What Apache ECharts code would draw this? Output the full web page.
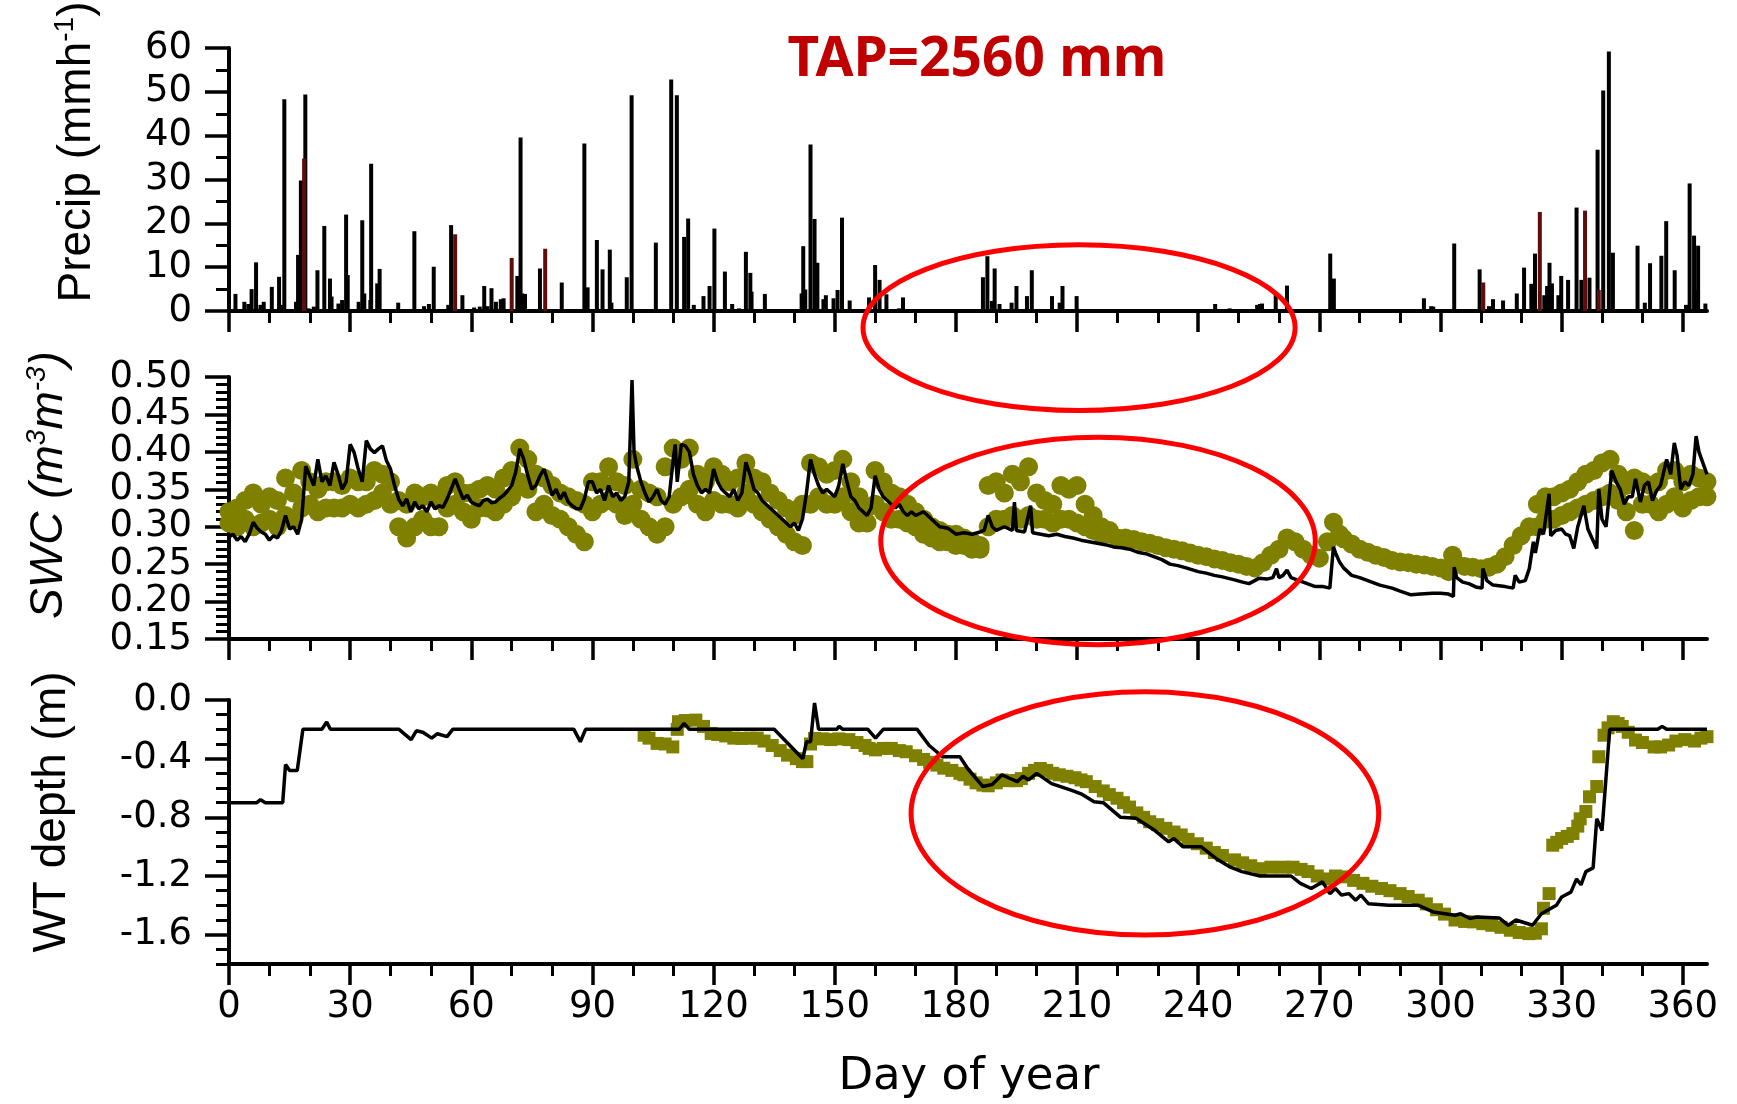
<!DOCTYPE html>
<html>
<head>
<meta charset="utf-8">
<script src="https://cdn.jsdelivr.net/npm/echarts@6.0.0/dist/echarts.min.js"></script>
<style>
  html, body { margin: 0; padding: 0; background: #fff; }
  #chart { width: 1737px; height: 1104px; }
</style>
</head>
<body>
<div id="chart"></div>
<script>
// ---- data ----
const dayMajor = [0, 30, 60, 90, 120, 150, 180, 210, 240, 270, 300, 330, 360];
const dayMinor = [10, 20, 40, 50, 70, 80, 100, 110, 130, 140, 160, 170, 190, 200, 220, 230, 250, 260, 280, 290, 310, 320, 340, 350];

const precipTicks = [0, 10, 20, 30, 40, 50, 60];
const precipMinor = [5, 15, 25, 35, 45, 55];
const swcTicks = [0.15, 0.20, 0.25, 0.30, 0.35, 0.40, 0.45, 0.50];
const swcMinor = [0.16, 0.17, 0.18, 0.19, 0.21, 0.22, 0.23, 0.24, 0.26, 0.27, 0.28, 0.29, 0.31, 0.32, 0.33, 0.34,
  0.36, 0.37, 0.38, 0.39, 0.41, 0.42, 0.43, 0.44, 0.46, 0.47, 0.48, 0.49];
const wtTicks = [-1.6, -1.2, -0.8, -0.4, 0];
const wtMinor = [-1.8, -1.7, -1.5, -1.4, -1.3, -1.1, -1.0, -0.9, -0.7, -0.6, -0.5, -0.3, -0.2, -0.1];

// hourly precipitation peaks [day, mm/h]
const precip = [
  [1.6, 3.9], [3.8, 2.1], [4.8, 1.6], [5.6, 5], [6.7, 11.1], [7.8, 1.4], [8.6, 2.1], [10.6, 5.5], [12.4, 7.8],
  [13, 1.4], [13.7, 48.3], [14.7, 0.4], [16.6, 2.1], [17.1, 12.8], [17.8, 29.8], [18.9, 49.4], [19.7, 0.6],
  [21, 1], [21.9, 9.3], [23.6, 19.4], [25, 7.4], [25.4, 3.3], [27.1, 1.7], [28, 2.5], [29, 22], [29.4, 8.2],
  [32.1, 2.1], [33, 20.7], [33.5, 4], [35, 2.5], [35.2, 33.6], [36.7, 6.3], [37.3, 9.6], [41.9, 1.9],
  [45.9, 18.2], [48.3, 1.1], [49.5, 1.6], [50.7, 10.1], [54.3, 1.4], [55, 19.6], [57.8, 3.6], [60.7, 0.8],
  [62.1, 1], [63.2, 5.7], [64, 1.1], [65, 5.2], [66.1, 2.1], [67.3, 2.7], [68, 2.9], [71.4, 8], [72.2, 39.6],
  [72.6, 4], [73.3, 3.9], [75.9, 0.4], [77, 9.7], [82.4, 6.5], [88, 38.2], [88.8, 5.4], [91.1, 16.2],
  [92.5, 9.5], [94.3, 14], [94.7, 1.9], [98.5, 7.7], [99.7, 49.2], [101, 0.4], [105.7, 15.6], [109.5, 52.8],
  [110.9, 49.2], [112.7, 16.9], [113.7, 21.1], [115.1, 1.4], [117.5, 3.4], [119, 5.7], [120.2, 18.8],
  [122.8, 9], [124.6, 1.6], [126.3, 0.6], [128, 13.5], [129.1, 8.7], [129.4, 4.4], [132.7, 3.9], [140, 0.3],
  [141.8, 4], [142.2, 14.8], [142.7, 4.9], [144, 38], [145, 21], [145.7, 11], [147.2, 2.7], [147.8, 3.6],
  [149.7, 2.9], [150.7, 4.8], [151.8, 21.3], [153.7, 2.4], [158.5, 3.1], [160, 10.5], [161.1, 7.1],
  [162.8, 3.8], [165.9, 0.6], [166.9, 3.1], [186.7, 7.7], [187.8, 12.5], [188.9, 2.3], [189.6, 9.7],
  [190.8, 1.6], [193.8, 1.9], [195, 5.7], [197.6, 3.4], [198.8, 9.3], [200.7, 0.4], [203.8, 3.4],
  [205.7, 1.9], [206.4, 5.7], [209.9, 3.4], [244.2, 1.6], [247.8, 0.6], [254.6, 1.4], [255.3, 1.6],
  [255.8, 1.7], [259.2, 4], [262, 5.8], [272.7, 13.1], [273.6, 7.4], [282.5, 0.4], [295.9, 2.9],
  [297.7, 1.1], [298.2, 1], [303.4, 15.4], [305, 0.4], [309.7, 9.5], [312, 1.1], [313, 2.7], [315.5, 2.4],
  [318.9, 4], [320.7, 9.9], [322.5, 6.2], [323.4, 13.1], [325.7, 3.6], [326.4, 5.7], [327, 11], [327.6, 6.3],
  [329.2, 3.6], [329.9, 8], [331.6, 7.1], [333.7, 23.6], [334.9, 7.1], [336.9, 7.6], [338.9, 36.8],
  [340.3, 50.3], [341.7, 59.2], [342.7, 13.3], [346.6, 0.4], [348.8, 14.9], [350.6, 1.9], [351.9, 10.9],
  [354.7, 12.6], [355.9, 20.5], [358, 9.3], [360.8, 1.4], [361.7, 29.1], [362.8, 17.2], [363, 4.8],
  [363.8, 14.9], [365.6, 1.7]
];
// the few bars drawn in dark red
const precipRed = [
  [18.6, 34.8], [56, 17.5], [70, 12.1], [78.3, 14.2], [310.6, 6.5], [324.6, 22.6], [335.8, 22.9], [339.2, 4.8]
];

// SWC, black line [day, m3/m3]
const swcLine = [
  [0, 0.286], [1, 0.29], [2, 0.282], [3, 0.287], [4, 0.28], [5, 0.29], [6, 0.306], [7, 0.298], [8, 0.293],
  [9, 0.29], [10, 0.282], [11, 0.288], [12, 0.285], [13, 0.295], [14, 0.315], [15, 0.297], [16, 0.3],
  [17, 0.29], [18, 0.31], [19, 0.381], [20, 0.368], [21, 0.355], [22, 0.39], [23, 0.36], [24, 0.368],
  [25, 0.355], [26, 0.386], [27, 0.37], [28, 0.35], [29, 0.36], [30, 0.41], [31, 0.399], [32, 0.377],
  [33, 0.36], [34, 0.415], [35, 0.404], [36, 0.399], [37, 0.404], [38, 0.408], [39, 0.388], [40, 0.377],
  [41, 0.355], [42, 0.337], [43, 0.328], [44, 0.337], [45, 0.32], [46, 0.333], [47, 0.324], [48, 0.328],
  [49, 0.32], [50, 0.333], [51, 0.324], [52, 0.328], [53, 0.326], [54, 0.337], [55, 0.35], [56, 0.364],
  [57, 0.35], [58, 0.337], [59, 0.342], [60, 0.333], [61, 0.33], [62, 0.328], [63, 0.335], [64, 0.337],
  [65, 0.332], [66, 0.333], [67, 0.338], [68, 0.342], [69, 0.348], [70, 0.355], [71, 0.373], [72, 0.404],
  [73, 0.39], [74, 0.368], [75, 0.35], [76, 0.355], [77, 0.368], [78, 0.377], [79, 0.36], [80, 0.342],
  [81, 0.35], [82, 0.337], [83, 0.346], [84, 0.333], [85, 0.328], [86, 0.324], [87, 0.324], [88, 0.337],
  [89, 0.36], [90, 0.36], [91, 0.345], [92, 0.35], [93, 0.335], [94, 0.355], [95, 0.34], [96, 0.345],
  [97, 0.335], [98, 0.34], [99, 0.36], [99.8, 0.496], [100.3, 0.4], [101, 0.38], [102, 0.36], [103, 0.345],
  [104, 0.333], [105, 0.34], [106, 0.35], [107, 0.335], [108, 0.33], [109, 0.34], [110, 0.39], [110.5, 0.41],
  [111, 0.36], [112, 0.41], [113, 0.408], [114, 0.4], [115, 0.37], [116, 0.355], [117, 0.345], [118, 0.35],
  [119, 0.345], [120, 0.377], [121, 0.36], [122, 0.35], [123, 0.345], [124, 0.34], [125, 0.35], [126, 0.335],
  [127, 0.345], [128, 0.386], [129, 0.37], [130, 0.35], [131, 0.345], [132, 0.335], [133, 0.33], [134, 0.325],
  [135, 0.32], [136, 0.315], [137, 0.31], [138, 0.305], [139, 0.3], [140, 0.305], [141, 0.295], [142, 0.31],
  [143, 0.345], [144, 0.39], [145, 0.37], [146, 0.355], [147, 0.345], [148, 0.35], [149, 0.345], [150, 0.34],
  [151, 0.355], [152, 0.384], [153, 0.36], [154, 0.34], [155, 0.335], [156, 0.325], [157, 0.32], [158, 0.315],
  [159, 0.325], [160, 0.368], [161, 0.35], [162, 0.34], [163, 0.335], [164, 0.33], [165, 0.325], [166, 0.33],
  [167, 0.32], [168, 0.315], [169, 0.32], [170, 0.315], [172, 0.32], [174, 0.31], [176, 0.3], [178, 0.298],
  [180, 0.29], [182, 0.292], [184, 0.29], [186, 0.293], [187, 0.295], [188, 0.315], [189, 0.3], [190, 0.295],
  [192, 0.3], [194, 0.295], [194.5, 0.333], [195, 0.295], [197, 0.293], [198.5, 0.328], [199, 0.292],
  [201, 0.29], [203, 0.288], [205, 0.29], [207, 0.287], [209, 0.285], [211, 0.282], [213, 0.28], [215, 0.278],
  [217, 0.276], [219, 0.273], [221, 0.272], [223, 0.27], [225, 0.266], [227, 0.264], [229, 0.26], [231, 0.256],
  [233, 0.25], [235, 0.248], [237, 0.245], [240, 0.24], [242, 0.238], [244, 0.235], [246, 0.233], [249, 0.229],
  [251, 0.226], [252.6, 0.224], [254, 0.228], [255, 0.231], [257, 0.23], [258.5, 0.232], [259.4, 0.244],
  [260, 0.232], [261, 0.235], [262, 0.242], [263, 0.232], [265, 0.228], [267, 0.224], [269, 0.22], [271, 0.22],
  [272.6, 0.218], [273.5, 0.273], [274, 0.265], [275, 0.253], [276, 0.245], [278, 0.235], [280, 0.232],
  [282, 0.228], [285, 0.222], [288, 0.218], [290, 0.214], [292.7, 0.209], [295, 0.21], [298, 0.211],
  [300, 0.211], [302, 0.21], [303.2, 0.207], [303.4, 0.246], [304, 0.232], [305.5, 0.226], [307, 0.224],
  [309, 0.219], [310.3, 0.218], [310.5, 0.244], [311.5, 0.228], [313, 0.222], [316, 0.22], [318, 0.218],
  [318.5, 0.235], [319.5, 0.226], [321, 0.228], [322, 0.244], [323, 0.28], [323.5, 0.265], [324.6, 0.297],
  [325.5, 0.29], [326.9, 0.344], [327.3, 0.288], [328.5, 0.295], [330, 0.297], [331, 0.29], [332, 0.288],
  [333, 0.271], [334, 0.3], [335.5, 0.328], [336.5, 0.297], [337.5, 0.285], [338.7, 0.271], [339.2, 0.35],
  [340, 0.31], [341, 0.3], [342.4, 0.375], [343.5, 0.36], [344.5, 0.35], [345.5, 0.33], [346.5, 0.34],
  [347.5, 0.34], [348.3, 0.364], [349.5, 0.333], [350.5, 0.355], [351.5, 0.36], [352.5, 0.335], [353.5, 0.348],
  [354.5, 0.355], [356, 0.39], [357, 0.37], [357.9, 0.412], [358.6, 0.395], [359.5, 0.35], [360.5, 0.36],
  [361.5, 0.355], [362.5, 0.37], [363.3, 0.421], [364, 0.4], [365, 0.385], [366, 0.37]
];

// SWC, olive dots: [day, lower edge, upper edge] of the dotted band
const swcDots = [
  [0, 0.305, 0.32], [2, 0.3, 0.325], [4, 0.31, 0.335], [6, 0.3, 0.345], [8, 0.305, 0.33], [10, 0.31, 0.34],
  [12, 0.3, 0.335], [14, 0.315, 0.365], [16, 0.31, 0.345], [18, 0.325, 0.375], [20, 0.33, 0.36],
  [22, 0.32, 0.35], [24, 0.325, 0.36], [26, 0.325, 0.36], [28, 0.325, 0.355], [30, 0.33, 0.365],
  [32, 0.325, 0.36], [34, 0.33, 0.36], [36, 0.335, 0.375], [38, 0.345, 0.37], [40, 0.33, 0.36],
  [42, 0.3, 0.335], [44, 0.285, 0.33], [46, 0.3, 0.345], [48, 0.31, 0.34], [50, 0.3, 0.345], [52, 0.3, 0.335],
  [54, 0.325, 0.355], [56, 0.33, 0.36], [58, 0.32, 0.345], [60, 0.31, 0.345], [62, 0.325, 0.35],
  [64, 0.325, 0.355], [66, 0.32, 0.35], [68, 0.33, 0.365], [70, 0.34, 0.375], [72, 0.36, 0.405],
  [74, 0.35, 0.39], [76, 0.32, 0.37], [78, 0.33, 0.365], [80, 0.315, 0.355], [82, 0.31, 0.345],
  [84, 0.3, 0.34], [86, 0.29, 0.335], [88, 0.28, 0.33], [90, 0.32, 0.36], [92, 0.33, 0.36], [94, 0.335, 0.38],
  [96, 0.33, 0.36], [98, 0.315, 0.355], [100, 0.33, 0.39], [102, 0.31, 0.35], [104, 0.3, 0.345],
  [106, 0.29, 0.34], [108, 0.3, 0.38], [110, 0.33, 0.405], [112, 0.34, 0.39], [114, 0.35, 0.405],
  [116, 0.33, 0.37], [118, 0.32, 0.36], [120, 0.335, 0.38], [122, 0.33, 0.37], [124, 0.33, 0.36],
  [126, 0.325, 0.365], [128, 0.345, 0.385], [130, 0.33, 0.365], [132, 0.32, 0.36], [134, 0.31, 0.345],
  [136, 0.3, 0.335], [138, 0.29, 0.325], [140, 0.28, 0.315], [142, 0.275, 0.33], [144, 0.33, 0.385],
  [146, 0.34, 0.38], [148, 0.33, 0.37], [150, 0.33, 0.375], [152, 0.34, 0.39], [154, 0.32, 0.36],
  [156, 0.305, 0.34], [158, 0.305, 0.325], [160, 0.33, 0.375], [162, 0.32, 0.36], [164, 0.31, 0.345],
  [166, 0.31, 0.34], [168, 0.305, 0.33], [170, 0.3, 0.32], [172, 0.29, 0.31], [174, 0.285, 0.3],
  [176, 0.28, 0.295], [178, 0.28, 0.29], [180, 0.275, 0.29], [182, 0.275, 0.285], [184, 0.27, 0.28],
  [186, 0.27, 0.275], [188, 0.3, 0.355], [190, 0.31, 0.36], [192, 0.31, 0.345], [194, 0.315, 0.37],
  [196, 0.31, 0.36], [198, 0.315, 0.38], [200, 0.31, 0.345], [202, 0.31, 0.335], [204, 0.305, 0.33],
  [206, 0.31, 0.355], [208, 0.31, 0.35], [210, 0.305, 0.355], [212, 0.3, 0.33], [214, 0.295, 0.315],
  [216, 0.29, 0.3], [218, 0.29, 0.295], [220, 0.285, null], [222, 0.285, null], [224, 0.283, null],
  [226, 0.28, null], [228, 0.278, null], [230, 0.275, null], [232, 0.272, null], [234, 0.27, null],
  [236, 0.268, null], [238, 0.265, null], [240, 0.262, null], [242, 0.26, null], [244, 0.257, null],
  [246, 0.255, null], [248, 0.252, null], [250, 0.25, null], [252, 0.247, null], [254, 0.245, null],
  [256, 0.252, null], [258, 0.262, null], [260, 0.27, null], [262, 0.285, null], [264, 0.28, null],
  [266, 0.27, null], [268, 0.262, null], [270, 0.258, null], [272, 0.28, null], [273.5, 0.306, null],
  [275, 0.29, null], [276, 0.284, null], [278, 0.277, null], [280, 0.27, null], [282, 0.266, null],
  [284, 0.262, null], [286, 0.259, null], [288, 0.255, null], [290, 0.253, null], [292, 0.252, null],
  [294, 0.25, null], [296, 0.249, null], [298, 0.247, null], [300, 0.245, null], [302, 0.24, null],
  [303, 0.262, null], [304, 0.25, null], [306, 0.247, null], [308, 0.246, null], [310, 0.244, null],
  [312, 0.246, null], [314, 0.25, null], [316, 0.26, null], [318, 0.275, null], [320, 0.288, null],
  [322, 0.3, null], [324, 0.3, 0.33], [326, 0.31, 0.34], [328, 0.31, 0.34], [330, 0.315, 0.345],
  [332, 0.32, 0.35], [334, 0.325, 0.36], [336, 0.33, 0.37], [338, 0.335, 0.375], [340, 0.34, 0.385],
  [342, 0.345, 0.39], [344, 0.335, 0.37], [346, 0.32, 0.355], [348, 0.295, 0.365], [350, 0.33, 0.36],
  [352, 0.33, 0.355], [354, 0.32, 0.36], [356, 0.33, 0.375], [358, 0.34, 0.375], [360, 0.325, 0.36],
  [362, 0.335, 0.37], [364, 0.34, 0.365], [366, 0.34, 0.36]
];

// water table depth, black line [day, m]
const wtLine = [
  [0, -0.7], [6.9, -0.7], [7.8, -0.68], [9, -0.7], [13.3, -0.7], [14, -0.44], [15, -0.48], [16.9, -0.48],
  [18.3, -0.2], [23, -0.2], [24.2, -0.15], [25.1, -0.2], [42.1, -0.2], [45.1, -0.27], [46.4, -0.21],
  [48, -0.22], [50.2, -0.26], [51.6, -0.23], [54, -0.25], [55.4, -0.2], [85.4, -0.2], [87, -0.285],
  [88.3, -0.2], [111.5, -0.2], [112.7, -0.16], [114, -0.2], [135, -0.2], [142.1, -0.4], [143, -0.285],
  [144, -0.285], [145, -0.02], [146, -0.2], [150.5, -0.2], [151.1, -0.18], [152, -0.2], [158.2, -0.2],
  [160.1, -0.26], [162, -0.2], [170.4, -0.2], [173.4, -0.31], [176.7, -0.387], [181, -0.387], [182.9, -0.467],
  [186.7, -0.59], [189, -0.576], [191.4, -0.51], [193, -0.53], [195.2, -0.557], [196.6, -0.52], [198, -0.545],
  [200, -0.5], [203.7, -0.57], [208.5, -0.614], [211, -0.64], [214.2, -0.694], [216.5, -0.7], [220.8, -0.8],
  [224.6, -0.806], [229.3, -0.89], [232.7, -0.967], [234, -0.945], [236.2, -1.0], [240.7, -1.0],
  [244.4, -1.08], [248, -1.14], [250.8, -1.17], [255.3, -1.2], [263, -1.2], [265.3, -1.25], [268, -1.285],
  [270.8, -1.24], [272.6, -1.32], [274, -1.285], [275.5, -1.33], [277.3, -1.32], [279, -1.365],
  [280.3, -1.33], [282.2, -1.39], [287.2, -1.4], [294.5, -1.4], [298.2, -1.445], [303.6, -1.468],
  [305, -1.457], [307.3, -1.49], [309, -1.48], [314.6, -1.487], [316.8, -1.536], [318.7, -1.5],
  [322.8, -1.536], [325, -1.457], [328.7, -1.4], [330, -1.343], [332.3, -1.31], [333.7, -1.22],
  [334.8, -1.26], [336, -1.17], [337.8, -1.145], [338.7, -0.81], [340, -0.89], [341.9, -0.2], [353.8, -0.2],
  [354.9, -0.18], [356, -0.2], [366, -0.2]
];

// water table depth, olive squares [day, m]
const wtDots = [
  [102.8, -0.24], [104, -0.26], [106, -0.296], [108, -0.3], [109.9, -0.32], [111, -0.2], [111.3, -0.148],
  [113, -0.14], [115.6, -0.137], [117.5, -0.18], [119.4, -0.228], [121, -0.235], [123, -0.245], [125, -0.26],
  [127, -0.262], [129, -0.26], [130.8, -0.26], [132.5, -0.28], [134.5, -0.31], [136.5, -0.345],
  [138.3, -0.376], [140.5, -0.4], [142, -0.42], [143.1, -0.42], [144, -0.3], [145, -0.262], [147, -0.265],
  [149, -0.27], [151, -0.265], [153.5, -0.27], [155.5, -0.29], [157.5, -0.31], [158.5, -0.33], [160.1, -0.34],
  [162, -0.33], [164, -0.33], [166, -0.345], [167.7, -0.353], [170, -0.38], [172, -0.405], [173.5, -0.425],
  [175.3, -0.444], [177, -0.465], [179, -0.48], [181, -0.5], [182, -0.51], [183.5, -0.54], [185, -0.565],
  [186.7, -0.58], [188, -0.585], [190, -0.565], [191.4, -0.546], [193, -0.55], [195, -0.55], [196.2, -0.536],
  [198, -0.5], [199.5, -0.48], [200.9, -0.467], [202.5, -0.48], [204, -0.5], [205.6, -0.51], [207.5, -0.52],
  [209.5, -0.53], [211, -0.545], [212.3, -0.557], [214.5, -0.59], [216.5, -0.62], [218, -0.645],
  [219.9, -0.67], [221.5, -0.7], [223, -0.73], [224.8, -0.77], [226.5, -0.8], [228, -0.83], [230, -0.85],
  [232, -0.875], [234, -0.9], [235.8, -0.92], [237.5, -0.95], [239.8, -0.98], [242, -1.01], [244, -1.04],
  [246, -1.06], [249, -1.09], [251, -1.11], [253, -1.13], [255.3, -1.15], [258, -1.14], [261, -1.14],
  [263.5, -1.14], [265.5, -1.155], [267.2, -1.17], [269.5, -1.2], [271.7, -1.22], [274, -1.2], [276.3, -1.206],
  [278.5, -1.23], [280.8, -1.25], [283, -1.27], [285.4, -1.285], [287.5, -1.3], [290, -1.32], [292, -1.34],
  [294.5, -1.365], [296.5, -1.39], [299, -1.43], [301, -1.46], [303.6, -1.5], [306, -1.51], [308.2, -1.513],
  [310.5, -1.525], [312.7, -1.536], [315, -1.55], [317.3, -1.57], [319.5, -1.585], [321.9, -1.593],
  [323.5, -1.59], [325, -1.56], [325.5, -1.42], [326.9, -1.32], [327.8, -0.99], [328.8, -0.97], [330, -0.944],
  [331.4, -0.93], [332.8, -0.91], [334, -0.86], [334.6, -0.81], [336, -0.76], [336.9, -0.66], [338.7, -0.59],
  [339.2, -0.387], [340.5, -0.24], [341.5, -0.19], [342.8, -0.148], [344, -0.16], [345, -0.18], [346.5, -0.22],
  [348.3, -0.273], [350, -0.29], [352.9, -0.32], [354.5, -0.32], [356.5, -0.307], [358.3, -0.28],
  [360.5, -0.27], [362.9, -0.28], [364.5, -0.26], [366, -0.25]
];

// red annotation ellipses in data units: [series to map through, day, value, half width (days), half height]
const ellipses = [
  [0, 210.5, -3.8, 53.5, 18.9],
  [2, 215.2, 0.281, 53.8, 0.1386],
  [4, 226.8, -0.773, 57.9, 0.83]
];

// ---- chart ----
const FONT = '"Liberation Sans", Arial, sans-serif';
const TICK_FONT = '"DejaVu Sans", sans-serif';
const chart = echarts.init(document.getElementById('chart'), null, { renderer: 'canvas' });

const swcDotData = [];
swcDots.forEach(([d, lo, hi]) => {
  swcDotData.push([d, lo]);
  if (hi !== null) swcDotData.push([d, hi]);
});

function xPair(gridIndex) {
  const base = { type: 'value', gridIndex, min: 0, max: 366, position: 'bottom', splitLine: { show: false } };
  return [
    {
      ...base,
      axisLine: { show: true, onZero: false, lineStyle: { color: '#000', width: 4 } },
      axisTick: { show: true, customValues: dayMajor, length: 21, lineStyle: { color: '#000', width: 3.5 } },
      axisLabel: {
        show: gridIndex === 2, customValues: dayMajor, margin: 25,
        color: '#000', fontSize: 37, fontFamily: TICK_FONT,
      },
    },
    {
      ...base,
      axisLine: { show: false, onZero: false },
      axisTick: { show: true, customValues: dayMinor, length: 12, lineStyle: { color: '#000', width: 3 } },
      axisLabel: { show: false },
    },
  ];
}

function yPair(gridIndex, min, max, major, minor, fmt) {
  const base = { type: 'value', gridIndex, min, max, position: 'left', splitLine: { show: false } };
  return [
    {
      ...base,
      axisLine: { show: true, onZero: false, lineStyle: { color: '#000', width: 4 } },
      axisTick: { show: true, customValues: major, length: 24, lineStyle: { color: '#000', width: 3.5 } },
      axisLabel: {
        customValues: major, margin: 37, formatter: fmt,
        color: '#000', fontSize: 37, fontFamily: TICK_FONT,
      },
    },
    {
      ...base,
      axisLine: { show: false, onZero: false },
      axisTick: { show: true, customValues: minor, length: 13, lineStyle: { color: '#000', width: 3 } },
      axisLabel: { show: false },
    },
  ];
}

const option = {
  animation: false,
  backgroundColor: '#fff',
  grid: [
    { left: 229, right: 30, top: 48, height: 263 },
    { left: 229, right: 30, top: 377, height: 262 },
    { left: 229, right: 30, top: 700, height: 264 },
  ],
  xAxis: [...xPair(0), ...xPair(1), ...xPair(2)],
  yAxis: [
    ...yPair(0, 0, 60, precipTicks, precipMinor, (v) => String(v)),
    ...yPair(1, 0.15, 0.5, swcTicks, swcMinor, (v) => v.toFixed(2)),
    ...yPair(2, -1.8, 0, wtTicks, wtMinor, (v) => v.toFixed(1)),
  ],
  series: [
    {
      type: 'bar', xAxisIndex: 0, yAxisIndex: 0, data: precip,
      barWidth: 4, barGap: '-100%', itemStyle: { color: '#000' }, silent: true,
    },
    {
      type: 'bar', xAxisIndex: 0, yAxisIndex: 0, data: precipRed,
      barWidth: 4, barGap: '-100%', itemStyle: { color: '#5e0c0c' }, silent: true,
    },
    {
      type: 'scatter', xAxisIndex: 2, yAxisIndex: 2, data: swcDotData,
      symbol: 'circle', symbolSize: 19, itemStyle: { color: '#808000', opacity: 1 }, z: 2, silent: true,
    },
    {
      type: 'line', xAxisIndex: 2, yAxisIndex: 2, data: swcLine,
      showSymbol: false, lineStyle: { color: '#000', width: 3.5 }, z: 3, silent: true,
    },
    {
      type: 'scatter', xAxisIndex: 4, yAxisIndex: 4, data: wtDots,
      symbol: 'rect', symbolSize: 13, itemStyle: { color: '#808000', opacity: 1 }, z: 2, silent: true,
    },
    {
      type: 'line', xAxisIndex: 4, yAxisIndex: 4, data: wtLine,
      showSymbol: false, lineStyle: { color: '#000', width: 3.5 }, z: 3, silent: true,
    },
  ],
};

chart.setOption(option);

// titles, annotation text and ellipses
const rotTitle = (x, y, rich, text) => ({
  type: 'text', x, y, rotation: Math.PI / 2, z: 10,
  style: { text, rich, fill: '#000', align: 'center', verticalAlign: 'middle' },
});

const ellipseEls = ellipses.map(([si, d, v, rx, ry]) => {
  const c = chart.convertToPixel({ seriesIndex: si }, [d, v]);
  const e = chart.convertToPixel({ seriesIndex: si }, [d + rx, v + ry]);
  return {
    type: 'ellipse', z: 20, silent: true,
    shape: { cx: c[0], cy: c[1], rx: Math.abs(e[0] - c[0]), ry: Math.abs(e[1] - c[1]) },
    style: { fill: 'none', stroke: '#ff0000', lineWidth: 5 },
  };
});

const big = { fontSize: 46, fontFamily: FONT, lineHeight: 52 };
const sup = { fontSize: 28, fontFamily: FONT, lineHeight: 52, verticalAlign: 'top' };

chart.setOption({
  graphic: [
    rotTitle(77, 152, { a: big, s: sup }, '{a|Precip (mmh}{s|-1}{a|)}'),
    rotTitle(49, 485,
      { a: { ...big, fontStyle: 'italic' }, s: { ...sup, fontStyle: 'italic' } },
      '{a|SWC (m}{s|3}{a|m}{s|-3}{a|)}'),
    rotTitle(52, 812, { a: big }, '{a|WT depth (m)}'),
    {
      type: 'text', x: 969, y: 1077, z: 10,
      style: { text: 'Day of year', fill: '#000', fontSize: 45, fontFamily: TICK_FONT, align: 'center', verticalAlign: 'middle' },
    },
    {
      type: 'text', x: 977, y: 60, z: 10,
      style: {
        text: 'TAP=2560 mm', fill: '#c00000', fontSize: 55, fontWeight: 'bold',
        fontFamily: '"Noto Sans", "Open Sans", sans-serif', align: 'center', verticalAlign: 'middle',
      },
    },
    ...ellipseEls,
  ],
});

window.addEventListener('resize', () => chart.resize());
</script>
</body>
</html>
